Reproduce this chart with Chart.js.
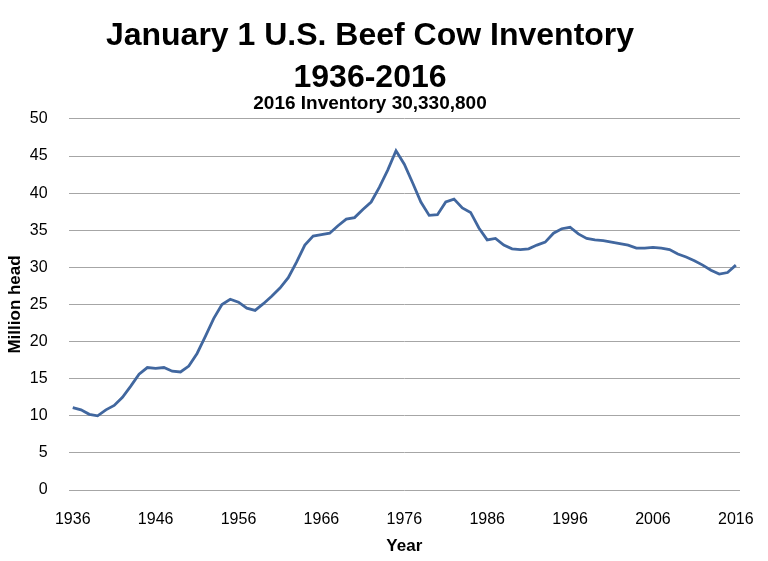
<!DOCTYPE html>
<html>
<head>
  <meta charset="UTF-8">
  <title>January 1 U.S. Beef Cow Inventory</title>
  <style>
    html, body { margin: 0; padding: 0; background: #fff; }
    #wrap { width: 768px; height: 561px; }
  </style>
  <script src="https://cdn.jsdelivr.net/npm/chart.js@4/dist/chart.umd.min.js"></script>
</head>
<body>
  <div id="wrap"><canvas id="cows"></canvas></div>

  <script>
    // years 1936..2016, one per January 1 survey
    const years = [
      1936, 1937, 1938, 1939, 1940, 1941, 1942, 1943, 1944, 1945,
      1946, 1947, 1948, 1949, 1950, 1951, 1952, 1953, 1954, 1955,
      1956, 1957, 1958, 1959, 1960, 1961, 1962, 1963, 1964, 1965,
      1966, 1967, 1968, 1969, 1970, 1971, 1972, 1973, 1974, 1975,
      1976, 1977, 1978, 1979, 1980, 1981, 1982, 1983, 1984, 1985,
      1986, 1987, 1988, 1989, 1990, 1991, 1992, 1993, 1994, 1995,
      1996, 1997, 1998, 1999, 2000, 2001, 2002, 2003, 2004, 2005,
      2006, 2007, 2008, 2009, 2010, 2011, 2012, 2013, 2014, 2015,
      2016
    ];

    // beef cows, million head
    const beefCows = [
      11.1, 10.8, 10.2, 10.0, 10.8, 11.4, 12.5, 14.0, 15.6, 16.5,
      16.4, 16.5, 16.0, 15.9, 16.7, 18.4, 20.7, 23.1, 25.0, 25.7,
      25.3, 24.5, 24.2, 25.1, 26.1, 27.2, 28.6, 30.7, 33.0, 34.2,
      34.4, 34.6, 35.6, 36.5, 36.7, 37.8, 38.8, 40.8, 43.1, 45.7,
      43.9, 41.4, 38.8, 37.0, 37.1, 38.8, 39.2, 38.0, 37.4, 35.3,
      33.7, 33.9, 33.0, 32.5, 32.4, 32.5, 33.0, 33.4, 34.6, 35.2,
      35.4, 34.5, 33.9, 33.7, 33.6, 33.4, 33.2, 33.0, 32.6, 32.6,
      32.7, 32.6, 32.4, 31.8, 31.4, 30.9, 30.3, 29.6, 29.1, 29.3,
      30.3
    ];

    const xTickLabels = ['1936', '1946', '1956', '1966', '1976', '1986', '1996', '2006', '2016'];
    const yTicks = [0, 5, 10, 15, 20, 25, 30, 35, 40, 45, 50];

    const titleLines = ['January 1 U.S. Beef Cow Inventory', '1936-2016'];
    const subtitleText = '2016 Inventory 30,330,800';

    const fam = "'Liberation Sans', sans-serif";

    new Chart(document.getElementById('cows'), {
      type: 'line',
      data: {
        labels: years.map(String),
        datasets: [{
          label: 'Beef cows',
          data: beefCows,
          borderColor: '#41679f',
          borderWidth: 2.8,
          pointRadius: 0,
          tension: 0,
          fill: false
        }]
      },
      options: {
        responsive: true,
        maintainAspectRatio: false,
        animation: false,
        layout: { padding: { left: 0, right: 28, top: 0, bottom: 0 } },
        plugins: {
          legend: { display: false },
          tooltip: { enabled: false },
          title: {
            display: true,
            text: titleLines,
            color: '#000',
            font: { family: fam, size: 32, weight: 'bold', lineHeight: '42px' },
            padding: { top: 15, bottom: 0 }
          },
          subtitle: {
            display: true,
            text: subtitleText,
            color: '#000',
            font: { family: fam, size: 19, weight: 'bold', lineHeight: 1.1 },
            padding: { top: -6, bottom: 5 }
          }
        },
        scales: {
          x: {
            offset: true,
            grid: { display: false, drawTicks: false },
            border: { display: false },
            ticks: {
              autoSkip: false,
              maxRotation: 0,
              padding: 20,
              color: '#000',
              font: { family: fam, size: 16 },
              callback: function (v) {
                const lab = this.getLabelForValue(v);
                return xTickLabels.includes(lab) ? lab : '';
              }
            },
            title: {
              display: true,
              text: 'Year',
              color: '#000',
              font: { family: fam, size: 17, weight: 'bold' },
              padding: { top: 0, bottom: 4 }
            },
            afterFit: function (s) {
              s.height = 71;
              // tick padding would otherwise widen the side margins
              s.paddingLeft = 0;
              s.paddingRight = 0;
            }
          },
          y: {
            min: 0,
            max: 50,
            afterBuildTicks: function (s) { s.ticks = yTicks.map(v => ({ value: v })); },
            grid: { color: '#a6a6a6', lineWidth: 1, drawTicks: false },
            border: { display: false },
            ticks: {
              padding: 21,
              color: '#000',
              font: { family: fam, size: 16 }
            },
            title: {
              display: true,
              text: 'Million head',
              color: '#000',
              font: { family: fam, size: 17, weight: 'bold' },
              padding: { top: 5, bottom: 0 }
            },
            afterFit: function (s) { s.width = 68.6; }
          }
        }
      }
    });
  </script>
</body>
</html>
